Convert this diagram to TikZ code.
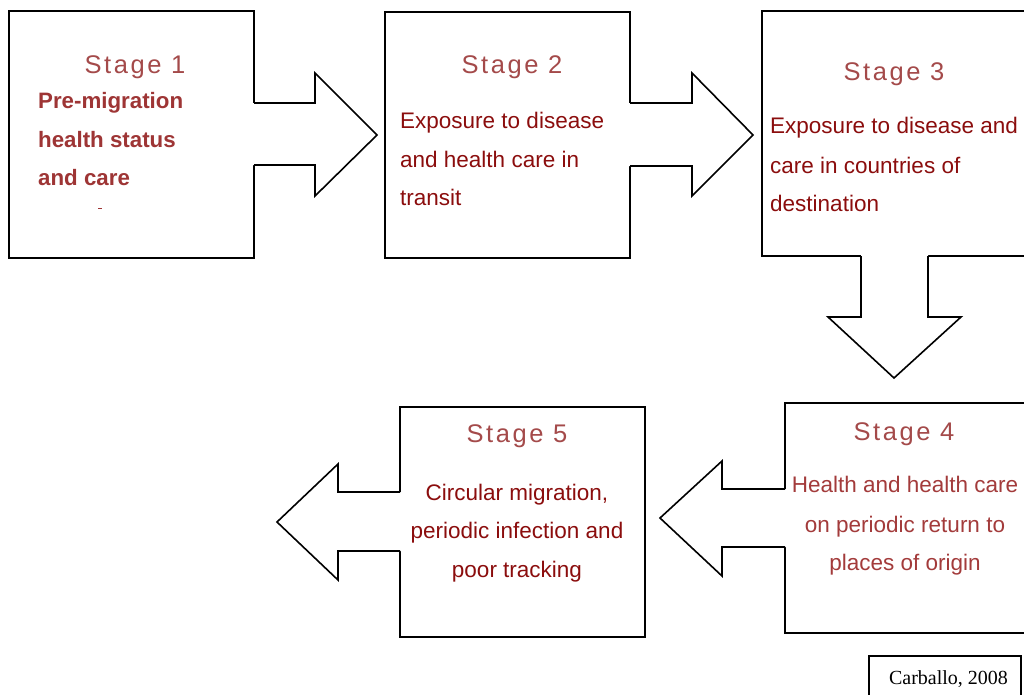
\documentclass[tikz,border=0pt]{standalone}
\usepackage{fontspec}
\setmainfont{Liberation Sans}
\newfontfamily\titlefont[LetterSpace=10]{Liberation Sans}
\newfontfamily\creditfont{Liberation Serif}
\definecolor{titlered}{HTML}{A44A4A}
\definecolor{bodyred}{HTML}{8B0D0D}
\definecolor{boldred}{HTML}{9E3535}
\definecolor{softred}{HTML}{A33B3B}
\begin{document}
\begin{tikzpicture}[x=1pt,y=-1pt,
  stagebox/.style={draw=black,line width=1.6pt,fill=white,inner sep=0pt,outer sep=0pt},
  blockfill/.style={fill=white},
  blockline/.style={draw=black,line width=1.6pt,line join=miter},
  stagetitle/.style={font=\titlefont\fontsize{25.5}{30}\selectfont,text=titlered,inner sep=0pt,anchor=base},
  bodyline/.style={font=\fontsize{22.5}{26}\selectfont,text=bodyred,inner sep=0pt,anchor=base west},
  boldline/.style={font=\bfseries\fontsize{22.3}{26}\selectfont,text=boldred,inner sep=0pt,anchor=base west},
  softline/.style={font=\fontsize{22.5}{26}\selectfont,text=softred,inner sep=0pt,anchor=base},
  centerline/.style={font=\fontsize{22.5}{26}\selectfont,text=bodyred,inner sep=0pt,anchor=base}]
\clip (0,0) rectangle (1024,694);
\fill[white] (0,0) rectangle (1024,694);
% boxes
\node[stagebox,minimum width=245pt,minimum height=247pt] (b1) at (131.5,134.5) {};
\node[stagebox,minimum width=245pt,minimum height=246pt] (b2) at (507.5,135) {};
\node[stagebox,minimum width=278pt,minimum height=245pt] (b3) at (901,133.5) {};
\node[stagebox,minimum width=255pt,minimum height=230pt] (b4) at (912.5,518) {};
\node[stagebox,minimum width=152pt,minimum height=54pt] (cred) at (945,683) {};
\node[stagebox,minimum width=245pt,minimum height=230pt] (b5) at (522.5,522) {};
% block arrows
\fill[blockfill] (252,103) -- (315,103) -- (315,73) -- (377,135) -- (315,196) -- (315,165) -- (252,165) -- cycle;
\draw[blockline] (254,103) -- (315,103) -- (315,73) -- (377,135) -- (315,196) -- (315,165) -- (254,165);
\fill[blockfill] (628,103) -- (692,103) -- (692,73) -- (753,135) -- (692,196) -- (692,166) -- (628,166) -- cycle;
\draw[blockline] (630,103) -- (692,103) -- (692,73) -- (753,135) -- (692,196) -- (692,166) -- (630,166);
\fill[blockfill] (861,254) -- (861,317) -- (828,317) -- (894,378) -- (961,317) -- (928,317) -- (928,254) -- cycle;
\draw[blockline] (861,256) -- (861,317) -- (828,317) -- (894,378) -- (961,317) -- (928,317) -- (928,256);
\fill[blockfill] (787,489) -- (722,489) -- (722,461) -- (660,518) -- (722,576) -- (722,547) -- (787,547) -- cycle;
\draw[blockline] (785,489) -- (722,489) -- (722,461) -- (660,518) -- (722,576) -- (722,547) -- (785,547);
\fill[blockfill] (402,492) -- (338,492) -- (338,464) -- (277,522) -- (338,580) -- (338,551) -- (402,551) -- cycle;
\draw[blockline] (400,492) -- (338,492) -- (338,464) -- (277,522) -- (338,580) -- (338,551) -- (400,551);
% stage 1
\node[stagetitle] (t1) at (135,73) {Stage 1};
\node[boldline] (s1a) at (38,108) {Pre-migration};
\node[boldline] (s1b) at (38,147) {health status};
\node[boldline] (s1c) at (38,185) {and care};
\draw[boldred,line width=1pt] (98,208) -- (102,208);
% stage 2
\node[stagetitle] (t2) at (512,73) {Stage 2};
\node[bodyline] (s2a) at (400,128) {Exposure to disease};
\node[bodyline] (s2b) at (400,167) {and health care in};
\node[bodyline] (s2c) at (400,205) {transit};
% stage 3
\node[stagetitle] (t3) at (894,80) {Stage 3};
\node[bodyline] (s3a) at (770,133) {Exposure to disease and};
\node[bodyline] (s3b) at (770,173) {care in countries of};
\node[bodyline] (s3c) at (770,211) {destination};
% stage 4
\node[stagetitle] (t4) at (904,440) {Stage 4};
\node[softline] (s4a) at (905,492) {Health and health care};
\node[softline] (s4b) at (905,532) {on periodic return to};
\node[softline] (s4c) at (905,570) {places of origin};
% stage 5
\node[stagetitle] (t5) at (517,442) {Stage 5};
\node[centerline] (s5a) at (517,500) {Circular migration,};
\node[centerline] (s5b) at (517,538) {periodic infection and};
\node[centerline] (s5c) at (517,577) {poor tracking};
% credit
\node[font=\creditfont\fontsize{20}{24}\selectfont,inner sep=0pt,anchor=base] (credtext) at (948.5,684) {Carballo, 2008};
\end{tikzpicture}
\end{document}
